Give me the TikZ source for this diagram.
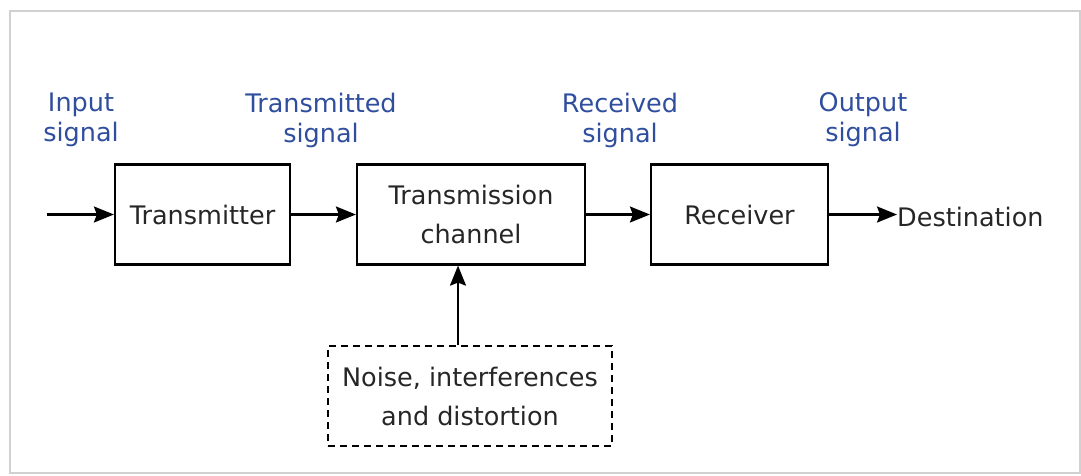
\documentclass[tikz,border=0pt]{standalone}
\usepackage{fontspec}
\setmainfont{DejaVu Sans}
\usetikzlibrary{arrows.meta}
\definecolor{lblblue}{RGB}{48,78,158}
\definecolor{txtgray}{RGB}{38,38,38}
\tikzset{
  blk/.style={draw=black, line width=2.2pt, minimum height=100pt, inner sep=0pt,
    font=\fontsize{25.5}{39}\selectfont, text=txtgray, align=center},
  dblk/.style={blk, line width=2pt, dash pattern=on 7pt off 5pt},
  lbl/.style={font=\fontsize{25.5}{30}\selectfont, text=lblblue, align=center, inner sep=0pt},
  arr/.style={line width=2.2pt, -{Stealth[length=20pt,width=16pt,inset=3pt]}},
}
\begin{document}
\begin{tikzpicture}[x=1pt,y=-1pt]
\useasboundingbox (0,0) rectangle (1081,475);
\draw[black!18, line width=1.2pt] (10,11) rectangle (1080,473);

\node[blk, minimum width=175pt] (tx) at (202.5,214.5) {Transmitter};
\node[blk, minimum width=228pt] (ch) at (471,214.5) {Transmission\\channel};
\node[blk, minimum width=177pt] (rx) at (739.5,214.5) {Receiver};
\node[dblk, minimum width=284pt] (nz) at (470,396) {Noise, interferences\\and distortion};
\node[font=\fontsize{25.5}{30}\selectfont, text=txtgray, anchor=west, inner sep=0pt] (dst) at (897,217) {Destination};

\node[lbl] (l1) at (81,120) {Input\\signal};
\node[lbl] (l2) at (321,120) {Transmitted\\signal};
\node[lbl] (l3) at (620,120) {Received\\signal};
\node[lbl] (l4) at (863,120) {Output\\signal};

\coordinate (in) at (47,214.5);
\draw[arr] (in) -- (tx.west);
\draw[arr] (tx.east) -- (ch.west);
\draw[arr] (ch.east) -- (rx.west);
\draw[arr] (rx.east) -- (dst.west |- rx.east);
\draw[arr] ([xshift=-12pt]nz.north) -- ([xshift=-12pt]nz.north |- ch.south);
\end{tikzpicture}
\end{document}
